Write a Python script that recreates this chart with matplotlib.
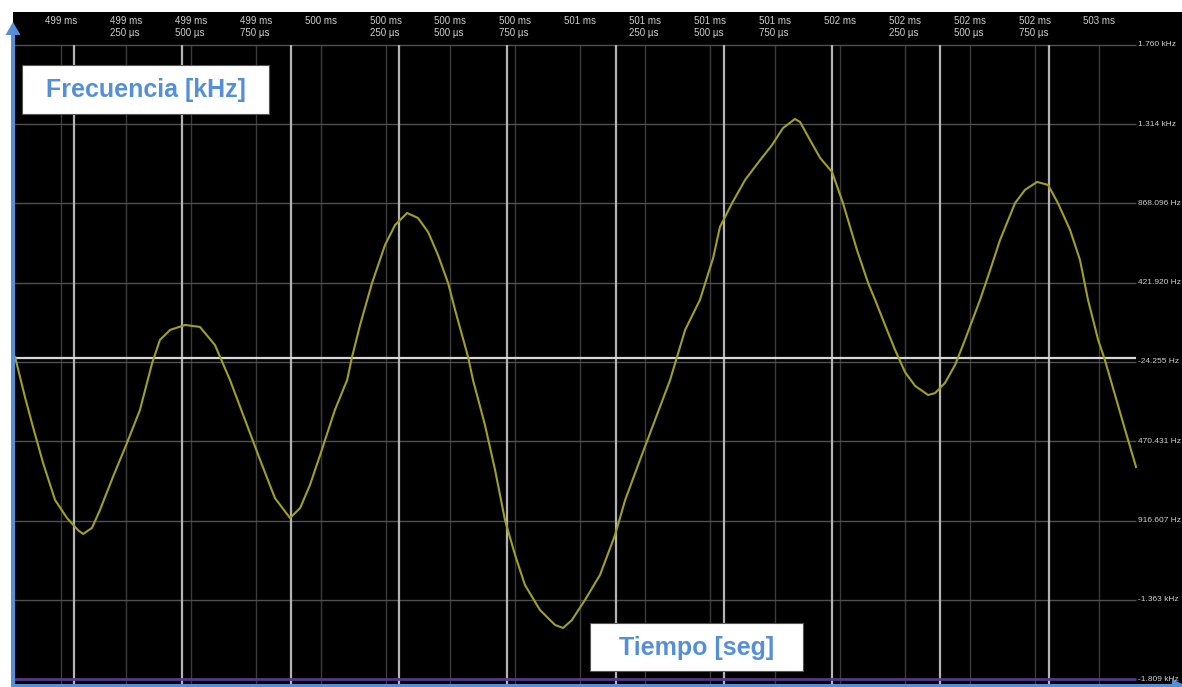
import matplotlib.pyplot as plt
from matplotlib.patches import Rectangle
import numpy as np

#############################################
# Frequency deviation trace, scope-style view
#############################################

# trace samples: time [ms] and frequency [Hz]
t_ms = [498.823, 498.861, 498.892, 498.931, 498.977, 499.023, 499.065, 499.085, 499.119, 499.150,
        499.200, 499.254, 499.304, 499.351, 499.381, 499.420, 499.478, 499.535, 499.593, 499.651,
        499.709, 499.767, 499.824, 499.882, 499.921, 499.959, 499.998, 500.055, 500.102, 500.121,
        500.152, 500.198, 500.248, 500.287, 500.333, 500.375, 500.414, 500.452, 500.491, 500.518,
        500.568, 500.587, 500.633, 500.672, 500.710, 500.749, 500.787, 500.845, 500.903, 500.934,
        500.968, 501.018, 501.076, 501.134, 501.173, 501.230, 501.288, 501.346, 501.404, 501.461,
        501.512, 501.538, 501.585, 501.635, 501.693, 501.739, 501.781, 501.827, 501.847, 501.885,
        501.924, 501.970, 502.012, 502.066, 502.109, 502.136, 502.174, 502.213, 502.251, 502.290,
        502.340, 502.367, 502.405, 502.444, 502.482, 502.540, 502.579, 502.617, 502.675, 502.713,
        502.760, 502.802, 502.840, 502.887, 502.925, 502.956, 502.995, 503.021, 503.060, 503.099,
        503.141]
f_hz = [4, -221, -390, -593, -801, -902, -970, -992, -958, -857,
        -671, -480, -294, -30, 100, 156, 184, 173, 71, -126,
        -351, -576, -790, -902, -846, -716, -548, -294, -126, 4,
        184, 420, 634, 747, 814, 786, 707, 578, 420, 268,
        4, -126, -379, -632, -913, -1110, -1279, -1420, -1504, -1521,
        -1476, -1364, -1223, -998, -801, -576, -351, -126, 156, 325,
        561, 735, 870, 1000, 1112, 1197, 1292, 1343, 1326, 1225,
        1124, 1045, 870, 606, 420, 325, 184, 43, -81, -159,
        -210, -199, -142, -41, 100, 325, 493, 662, 870, 944,
        989, 972, 870, 718, 550, 325, 100, -13, -210, -407,
        -615]

# horizontal graticule (Hz) and its readout
grid_hz = [1760.448, 1314.272, 868.096, 421.920, -24.255,
           -470.431, -916.607, -1362.783, -1808.959]
grid_labels = ["1.760 kHz", "1.314 kHz", "868.096 Hz", "421.920 Hz", "-24.255 Hz",
               "470.431 Hz", "916.607 Hz", "-1.363 kHz", "-1.809 kHz"]

# time readout along the top
time_ticks_ms = [499.0, 499.25, 499.5, 499.75, 500.0, 500.25, 500.5, 500.75,
                 501.0, 501.25, 501.5, 501.75, 502.0, 502.25, 502.5, 502.75, 503.0]
time_labels = ["499 ms", "499 ms\n250 µs", "499 ms\n500 µs", "499 ms\n750 µs",
               "500 ms", "500 ms\n250 µs", "500 ms\n500 µs", "500 ms\n750 µs",
               "501 ms", "501 ms\n250 µs", "501 ms\n500 µs", "501 ms\n750 µs",
               "502 ms", "502 ms\n250 µs", "502 ms\n500 µs", "502 ms\n750 µs",
               "503 ms"]

# screen divisions (bright verticals)
div_start, div_step, n_div = 499.050, 0.4172, 10

BLUE = "#5590d6"
TRACE = "#a0a024"
X_MIN, X_MAX = 498.815, 503.318
Y_MIN, Y_MAX = -1853.0, 1945.0
GRID_END = 503.141

W, H = 1182, 687
fig = plt.figure(figsize=(W / 100, H / 100), dpi=100, facecolor="white")

#--------------------------------
# scope screen
#--------------------------------
ax = fig.add_axes([13 / W, 0, (W - 13) / W, 675 / H])
ax.set_facecolor("black")
ax.set_xlim(X_MIN, X_MAX)
ax.set_ylim(Y_MIN, Y_MAX)
ax.set_xticks([])
ax.set_yticks([])
for s in ax.spines.values():
    s.set_visible(False)

# dim 250 us grid
ax.vlines(time_ticks_ms, Y_MIN, grid_hz[0], color="#3c3c3c", lw=1.0, zorder=1)
# bright division lines
divs = div_start + div_step * np.arange(n_div)
ax.vlines(divs, Y_MIN, grid_hz[0], color="#b4b4b4", lw=1.6, zorder=2)

# horizontal graticule
ax.hlines(grid_hz[:-1], X_MIN, GRID_END, color="#505050", lw=1.0, zorder=1)
ax.hlines(grid_hz[-1], X_MIN, GRID_END, color="#55388a", lw=2.0, zorder=2)
# zero reference
ax.hlines(0, X_MIN, GRID_END, color="#d8d8d8", lw=1.6, zorder=2)

# frequency readout on the right edge
for v, lab in zip(grid_hz, grid_labels):
    ax.text(503.147, v, lab, ha="left", va="center", fontsize=6,
            family="Liberation Sans", color="#cfcfcf")

for t, lab in zip(time_ticks_ms, time_labels):
    ax.text(t, 1925, lab, ha="center", va="top", ma="left", fontsize=7,
            family="Liberation Sans", color="#cfcfcf", linespacing=1.25)

# the trace
ax.plot(t_ms, f_hz, color=TRACE, lw=1.5, zorder=3, solid_joinstyle="round")

#--------------------------------
# annotation overlay (pixel units)
#--------------------------------
ov = fig.add_axes([0, 0, 1, 1])
ov.set_xlim(0, W)
ov.set_ylim(H, 0)
ov.axis("off")

ov.arrow(13, 690, 0, -668, width=4, head_width=15, head_length=13,
         length_includes_head=True, color=BLUE, lw=0)
ov.arrow(13, 685.5, 1172, 0, width=3, head_width=13, head_length=13,
         length_includes_head=True, color=BLUE, lw=0)

ov.add_patch(Rectangle((22, 65), 247, 49, fc="white", ec="#555555", lw=0.8))
ov.text(145.5, 90, "Frecuencia [kHz]", ha="center", va="center", fontsize=18,
        fontweight="bold", family="Liberation Sans", color=BLUE)

ov.add_patch(Rectangle((590, 623), 213, 48, fc="white", ec="#555555", lw=0.8))
ov.text(696.5, 647.5, "Tiempo [seg]", ha="center", va="center", fontsize=18,
        fontweight="bold", family="Liberation Sans", color=BLUE)

fig.savefig("out.png", dpi=100, facecolor="white")
